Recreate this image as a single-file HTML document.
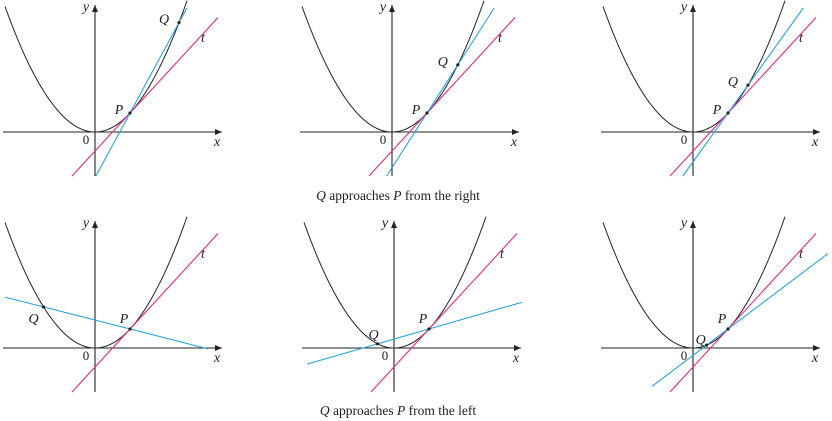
<!DOCTYPE html>
<html><head><meta charset="utf-8"><style>
body{margin:0;background:#fff}
svg{display:block}
text{font-family:"Liberation Serif",serif;fill:#222}
</style></head><body>
<svg id="c" width="832" height="421" viewBox="0 0 832 421" xmlns="http://www.w3.org/2000/svg">
<defs><marker id="ar" markerWidth="8" markerHeight="8" refX="7" refY="4" orient="auto" markerUnits="userSpaceOnUse"><path d="M0,1 L7,4 L0,7 Z" fill="#222"/></marker></defs>
<text x="398" y="200" font-size="13.5" text-anchor="middle"><tspan font-style="italic">Q</tspan> approaches <tspan font-style="italic">P</tspan> from the right</text>
<text x="398" y="415" font-size="13.5" text-anchor="middle"><tspan font-style="italic">Q</tspan> approaches <tspan font-style="italic">P</tspan> from the left</text>
</svg>
<script>
const qValues = [2.4, 1.88, 1.57, -1.47, -0.47, 0.39];
const panelOriginsX = [95, 392, 693, 95, 394, 693];
const panelOriginsY = [132, 132, 132, 348, 348, 348];
const pX = 1;
const XU = 35, YU = 19;
const svg = document.getElementById('c');
const NS = 'http://www.w3.org/2000/svg';
function mk(tag, attrs, parent){const e=document.createElementNS(NS,tag);for(const k in attrs)e.setAttribute(k,attrs[k]);(parent||svg).appendChild(e);return e;}
function sx(ox,x){return ox+x*XU;}
function sy(oy,y){return oy-y*YU;}
function lineClip(g,ox,oy,m,b,xmin,xmax,ymin,ymax,color,name){
  let x1=xmin,x2=xmax;
  if(m!==0){const xa=(ymin-b)/m,xb=(ymax-b)/m;x1=Math.max(x1,Math.min(xa,xb));x2=Math.min(x2,Math.max(xa,xb));}
  const l=mk('line',{x1:sx(ox,x1),y1:sy(oy,m*x1+b),x2:sx(ox,x2),y2:sy(oy,m*x2+b),stroke:color,'stroke-width':1.1},g);
  
  
}
qValues.forEach((q,i)=>{
  const ox=panelOriginsX[i], oy=panelOriginsY[i];
  const g=mk('g',{});
  
  
  const xa=mk('line',{x1:ox-92,y1:oy,x2:ox+127,y2:oy,stroke:'#222','stroke-width':1.1,'marker-end':'url(#ar)'},g);
  
  
  const ya=mk('line',{x1:ox,y1:oy+44,x2:ox,y2:oy-127,stroke:'#222','stroke-width':1.1,'marker-end':'url(#ar)'},g);
  
  
  let d='';
  for(let k=0;k<=100;k++){const x=-90/XU+k*(182/XU)/100;d+=(k?'L':'M')+sx(ox,x).toFixed(2)+','+sy(oy,x*x).toFixed(2);}
  const cv=mk('path',{d:d,fill:'none',stroke:'#222','stroke-width':1},g);
  
  
  const ymin=-44/YU, ymax=124/YU;
  lineClip(g,ox,oy,2*pX,-pX*pX,-90/XU,123/XU,ymin,119/YU,'#e8287a','tangent-line');
  const m=q+pX, b=-q*pX;
  const bx0 = i>=3 ? (i===3?-90:(i===4?-87:-41))/XU : -90/XU;
  const bx1 = i>=3 ? (i===3?113:(i===4?128:135))/XU : 127/XU;
  lineClip(g,ox,oy,m,b,bx0,bx1,ymin,ymax,'#29a3dd','secant-line');
  const pd=mk('circle',{cx:sx(ox,pX),cy:sy(oy,pX*pX),r:1.6,fill:'#222'},g);
  
  
  const qd=mk('circle',{cx:sx(ox,q),cy:sy(oy,q*q),r:1.6,fill:'#222'},g);
  
  
  const labs=[['y',ox-9,oy-121,'y-axis-label',true],['x',ox+122,oy+14,'x-axis-label',true],['0',ox-9,oy+12,'origin-label',false],['t',ox+108,oy-90,'tangent-label',true]];
  const pl = i<3 ? [sx(ox,pX)-11,sy(oy,1)+1] : [sx(ox,pX)-6,sy(oy,1)-6];
  labs.push(['P',pl[0],pl[1],'p-label',true]);
  let ql;
  if(i<3) ql=[sx(ox,q)-15,sy(oy,q*q)+1];
  else if(i===3) ql=[sx(ox,q)-10,sy(oy,q*q)+16];
  else if(i===4) ql=[sx(ox,q)-4,sy(oy,q*q)-5];
  else ql=[sx(ox,q)-6,sy(oy,q*q)-1];
  labs.push(['Q',ql[0],ql[1],'q-label',true]);
  labs.forEach(L=>{
    const t=mk('text',{x:L[1],y:L[2],'font-size':L[0]==='0'?13:14,'font-style':L[4]?'italic':'normal','text-anchor':'middle'},g);
    t.textContent=L[0];
    
    
  });
});
</script>
</body></html>
